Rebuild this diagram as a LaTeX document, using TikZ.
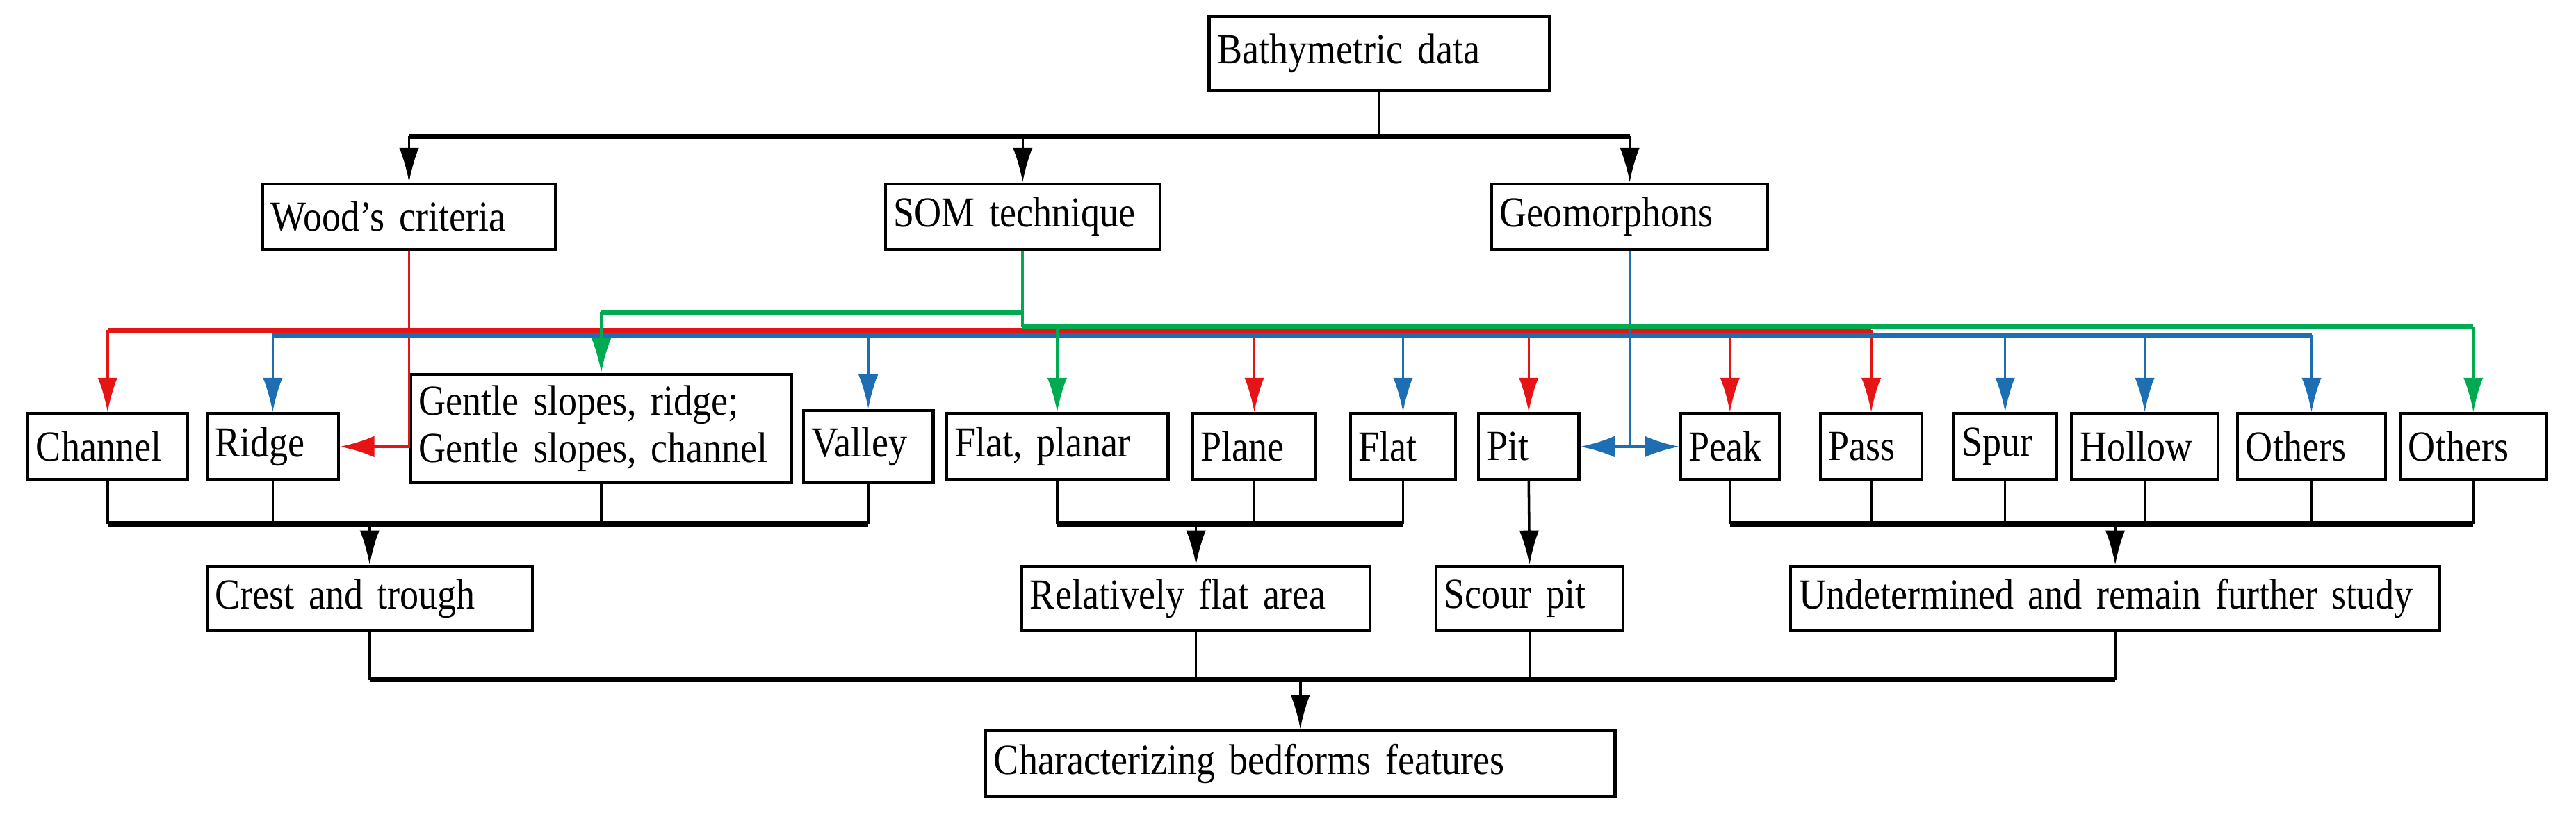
\documentclass[tikz,border=0pt]{standalone}
\usepackage{fontspec}
\setmainfont{Liberation Serif}[FakeStretch=0.88]
\usetikzlibrary{arrows.meta}
\definecolor{wred}{RGB}{230,20,20}
\definecolor{gblue}{RGB}{30,110,180}
\definecolor{sgreen}{RGB}{0,170,80}
\tikzset{
  box/.style={draw, line width=1.8pt, inner xsep=5pt, align=left, fill=white},
  conn/.style={line width=1.5pt},
  bus/.style={line width=3pt},
  arr/.style={line width=1.5pt, -{Latex[length=21pt,width=12pt]}},
  cbus/.style={line width=3pt},
}
\begin{document}
\begin{tikzpicture}[x=1pt, y=-1pt, font=\fontsize{26}{29}\selectfont]
        \useasboundingbox (0,0) rectangle (1568,503);
        % top level
        \node[box, minimum width=207, minimum height=45, text width=197] (bath) at (839.5,32.5) {Bathymetric data};
        \node[box, minimum width=178, minimum height=40, text width=168] (wood) at (249,132) {Wood's criteria};
        \node[box, minimum width=167, minimum height=40, text width=157] (som) at (622.5,132) {SOM technique};
        \node[box, minimum width=168, minimum height=40, text width=158] (geo) at (992,132) {Geomorphons};
        % classes
        \node[box, minimum width=97, minimum height=40, text width=87] (channel) at (65.5,272) {Channel};
        \node[box, minimum width=80, minimum height=40, text width=70] (ridge) at (166,272) {Ridge};
        \node[box, minimum width=232, minimum height=66, text width=222] (gentle) at (366,261) {Gentle slopes, ridge;\\Gentle slopes, channel};
        \node[box, minimum width=79, minimum height=44, text width=69] (valley) at (528.5,272) {Valley};
        \node[box, minimum width=135, minimum height=40, text width=125] (flatpl) at (643.5,272) {Flat, planar};
        \node[box, minimum width=75, minimum height=40, text width=65] (plane) at (763.5,272) {Plane};
        \node[box, minimum width=64, minimum height=40, text width=54] (flat) at (854,272) {Flat};
        \node[box, minimum width=61, minimum height=40, text width=51] (pit) at (930.5,272) {Pit};
        \node[box, minimum width=60, minimum height=40, text width=50] (peak) at (1053,272) {Peak};
        \node[box, minimum width=62, minimum height=40, text width=52] (pass) at (1139,272) {Pass};
        \node[box, minimum width=63, minimum height=40, text width=53] (spur) at (1220.5,272) {Spur};
        \node[box, minimum width=89, minimum height=40, text width=79] (hollow) at (1305.5,272) {Hollow};
        \node[box, minimum width=90, minimum height=40, text width=80] (othgeo) at (1407,272) {Others};
        \node[box, minimum width=89, minimum height=40, text width=79] (othsom) at (1505.5,272) {Others};
        % groups
        \node[box, minimum width=198, minimum height=39, text width=188] (crest) at (225,364.5) {Crest and trough};
        \node[box, minimum width=212, minimum height=39, text width=202] (relflat) at (728,364.5) {Relatively flat area};
        \node[box, minimum width=114, minimum height=39, text width=104] (scour) at (931,364.5) {Scour pit};
        \node[box, minimum width=395, minimum height=39, text width=385] (undet) at (1287.5,364.5) {Undetermined and remain further study};
        \node[box, minimum width=383, minimum height=40, text width=373] (char) at (791.5,465) {Characterizing bedforms features};

        % bathymetric data to methods
        \coordinate (top) at (839.5,83);
        \draw[conn] (bath.south) -- (top);
        \draw[bus] (wood.north |- top) -- (geo.north |- top);
        \draw[arr] (wood.north |- top) -- (wood.north);
        \draw[arr] (som.north |- top) -- (som.north);
        \draw[arr] (geo.north |- top) -- (geo.north);

        % Wood's criteria (red)
        \draw[cbus, wred] (channel.north |- 0,201) -- (pass.north |- 0,201);
        \draw[line width=1.6pt, wred, -{Latex[length=21pt,width=13pt]}] (wood.south) |- (ridge.east);
        \foreach \n in {channel, plane, pit, peak, pass}
          \draw[arr, wred] (\n.north |- 0,201) -- (\n.north);
        % geomorphons (blue)
        \draw[cbus, gblue] (ridge.north |- 0,204) -- (othgeo.north |- 0,204);
        \draw[line width=1.6pt, gblue] (geo.south) -- (geo.south |- pit.east);
        \draw[line width=1.6pt, gblue, {Latex[length=21pt,width=13pt]}-{Latex[length=21pt,width=13pt]}] (pit.east) -- (peak.west);
        \foreach \n in {ridge, valley, flat, spur, hollow, othgeo}
          \draw[arr, gblue] (\n.north |- 0,204) -- (\n.north);
        % SOM technique (green)
        \draw[line width=1.6pt, sgreen] (som.south) -- (som.south |- 0,199);
        \draw[cbus, sgreen] (som.south |- 0,199) -- (othsom.north |- 0,199);
        \draw[cbus, sgreen] (som.south |- 0,190) -- (gentle.north |- 0,190);
        \draw[arr, sgreen] (gentle.north |- 0,190) -- (gentle.north);
        \foreach \n in {flatpl, othsom}
          \draw[arr, sgreen] (\n.north |- 0,199) -- (\n.north);

        % classes to groups
        \draw[bus] (channel.south |- 0,319) -- (valley.south |- 0,319);
        \foreach \n in {channel, ridge, gentle, valley}
          \draw[conn] (\n.south) -- (\n.south |- 0,319);
        \draw[arr] (crest.north |- 0,319) -- (crest.north);
        \draw[bus] (flatpl.south |- 0,319) -- (flat.south |- 0,319);
        \foreach \n in {flatpl, plane, flat}
          \draw[conn] (\n.south) -- (\n.south |- 0,319);
        \draw[arr] (relflat.north |- 0,319) -- (relflat.north);
        \draw[arr] (pit.south) -- (scour.north);
        \draw[bus] (peak.south |- 0,319) -- (othsom.south |- 0,319);
        \foreach \n in {peak, pass, spur, hollow, othgeo, othsom}
          \draw[conn] (\n.south) -- (\n.south |- 0,319);
        \draw[arr] (undet.north |- 0,319) -- (undet.north);

        % groups to result
        \draw[bus] (crest.south |- 0,414) -- (undet.south |- 0,414);
        \foreach \n in {crest, relflat, scour, undet}
          \draw[conn] (\n.south) -- (\n.south |- 0,414);
        \draw[arr] (char.north |- 0,414) -- (char.north);
\end{tikzpicture}
\end{document}
